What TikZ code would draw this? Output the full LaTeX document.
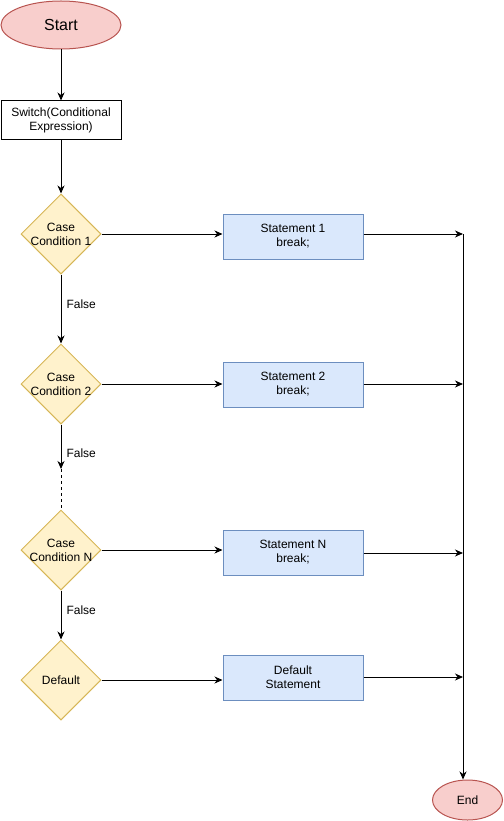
\documentclass[tikz,border=0pt]{standalone}
\usepackage{fontspec}
\setmainfont{Liberation Sans}
\usetikzlibrary{shapes.geometric,arrows.meta}
\definecolor{redfill}{HTML}{F8CECC}
\definecolor{redline}{HTML}{B85450}
\definecolor{yelfill}{HTML}{FFF2CC}
\definecolor{yelline}{HTML}{D6B656}
\definecolor{blufill}{HTML}{DAE8FC}
\definecolor{bluline}{HTML}{6C8EBF}
\begin{document}
\begin{tikzpicture}[x=1pt,y=-1pt,
  every node/.style={font=\fontsize{12}{14}\selectfont, align=center, inner sep=0pt},
  term/.style={ellipse, draw=redline, fill=redfill, line width=1pt},
  procbox/.style={rectangle, draw=black, fill=white, line width=1pt, minimum width=120pt, minimum height=39pt},
  dia/.style={diamond, draw=yelline, fill=yelfill, line width=1pt, minimum width=80pt, minimum height=80pt},
  stmt/.style={rectangle, draw=bluline, fill=blufill, line width=1pt, minimum width=140pt, minimum height=45pt},
  conn/.style={line width=1pt, draw=black, -{Stealth[length=8pt,width=7pt,inset=2.5pt]}},
  plain/.style={line width=1pt, draw=black},
  lbl/.style={anchor=west}
]
\useasboundingbox (0,0) rectangle (503,821);

\node[term, minimum width=120pt, minimum height=48pt, font=\fontsize{16}{18}\selectfont] (start) at (61,25) {Start};
\node[procbox] (sw) at (61,120.5) {Switch(Conditional\\Expression)};

\node[dia] (d1) at (61,234) {};
\node (d1t) at (d1) {Case\\Condition 1};
\node[dia] (d2) at (61,384) {};
\node (d2t) at (d2) {Case\\Condition 2};
\node[dia] (d3) at (61,550) {};
\node (d3t) at (d3) {Case\\Condition N};
\node[dia] (d4) at (61,680) {};
\node (d4t) at (d4) {Default};

\node[stmt] (s1) at (293,236.5) {Statement 1\\break;};
\node[stmt] (s2) at (293,384.5) {Statement 2\\break;};
\node[stmt] (s3) at (293,552.5) {Statement N\\break;};
\node[stmt] (s4) at (293,677.5) {Default\\Statement};

\node[term, minimum width=70pt, minimum height=40pt] (en) at (467.5,800) {End};

\coordinate (r1) at (463,234);
\coordinate (r2) at (463,384);
\coordinate (r3) at (463,553);
\coordinate (r4) at (463,677);
\coordinate (gap) at (61,469);

\draw[conn] (start) -- (sw);
\draw[conn] (sw) -- (d1);
\draw[conn] (d1) -- node[lbl, xshift=5pt, pos=0.43] (f1) {False} (d2);
\draw[conn] (d2) -- node[lbl, xshift=5pt, pos=0.65] (f2) {False} (gap);
\draw[plain, dash pattern=on 3pt off 3pt] (gap) -- (d3);
\draw[conn] (d3) -- node[lbl, xshift=5pt, pos=0.4] (f3) {False} (d4);

\draw[conn] (d1.east) -- (s1.west |- d1.east);
\draw[conn] (d2.east) -- (s2.west |- d2.east);
\draw[conn] (d3.east) -- (s3.west |- d3.east);
\draw[conn] (d4.east) -- (s4.west |- d4.east);

\draw[conn] (s1.east |- r1) -- (r1);
\draw[conn] (s2.east |- r2) -- (r2);
\draw[conn] (s3.east |- r3) -- (r3);
\draw[conn] (s4.east |- r4) -- (r4);

\draw[conn] (r1) -- (r1 |- en.north);
\end{tikzpicture}
\end{document}
